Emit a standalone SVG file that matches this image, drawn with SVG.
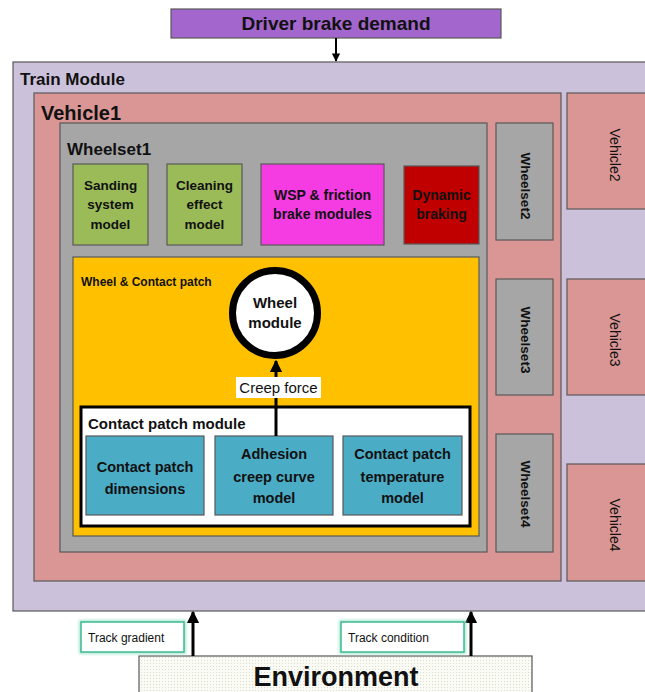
<svg xmlns="http://www.w3.org/2000/svg" width="645" height="692" viewBox="0 0 645 692">
<style>
text{font-family:"Liberation Sans",Arial,sans-serif;fill:#111;}
.b{font-weight:bold;}
.c{text-anchor:middle;}
.box{stroke:#595959;stroke-width:1.2;}
.conn{stroke:#000;fill:none;}
</style>
<defs>
<marker id="ah" viewBox="0 0 10 10" refX="9" refY="5" markerWidth="4.2" markerHeight="4.2" orient="auto"><path d="M0,0 L10,5 L0,10 z" fill="#000"/></marker>
<pattern id="dots" width="3" height="3" patternUnits="userSpaceOnUse"><rect width="3" height="3" fill="#fbfbf6"/><rect width="1" height="1" fill="#dcdcd0"/></pattern>
<filter id="glow" x="-20%" y="-30%" width="140%" height="160%"><feGaussianBlur stdDeviation="1.5"/></filter>
</defs>

<g id="driver">
<rect class="box" x="171" y="9" width="330" height="29" fill="#a366cc"/>
<text class="b c" x="336" y="30" font-size="19">Driver brake demand</text>
</g>

<g id="train">
<rect class="box" x="13" y="62" width="640" height="549" fill="#ccc1da"/>
<text class="b" x="20" y="85" font-size="17">Train Module</text>
</g>

<g id="vehicle1">
<rect class="box" x="34" y="93" width="527" height="488" fill="#d99694"/>
<text class="b" x="41" y="120" font-size="20">Vehicle1</text>
</g>

<g id="vehicle2">
<rect class="box" x="567" y="93" width="90" height="116" fill="#d99694"/>
<text class="c" font-size="14" transform="translate(610,155) rotate(90)">Vehicle2</text>
</g>
<g id="vehicle3">
<rect class="box" x="567" y="279" width="90" height="116" fill="#d99694"/>
<text class="c" font-size="14" transform="translate(610,340) rotate(90)">Vehicle3</text>
</g>
<g id="vehicle4">
<rect class="box" x="567" y="464" width="90" height="117" fill="#d99694"/>
<text class="c" font-size="14" transform="translate(610,525) rotate(90)">Vehicle4</text>
</g>

<g id="wheelset1">
<rect class="box" x="60" y="123" width="427" height="429" fill="#a6a6a6"/>
<text class="b" x="67" y="155" font-size="17">Wheelset1</text>
</g>
<g id="wheelset2">
<rect class="box" x="496" y="123" width="57" height="117" fill="#a6a6a6"/>
<text class="b c" font-size="13.5" transform="translate(521,186) rotate(90)">Wheelset2</text>
</g>
<g id="wheelset3">
<rect class="box" x="496" y="279" width="57" height="116" fill="#a6a6a6"/>
<text class="b c" font-size="13.5" transform="translate(521,340) rotate(90)">Wheelset3</text>
</g>
<g id="wheelset4">
<rect class="box" x="496" y="434" width="57" height="118" fill="#a6a6a6"/>
<text class="b c" font-size="13.5" transform="translate(521,494) rotate(90)">Wheelset4</text>
</g>

<g id="sanding">
<rect class="box" x="73" y="164" width="75" height="81" fill="#9bbb59"/>
<text class="b c" font-size="13.5"><tspan x="110.5" y="190">Sanding</tspan><tspan x="110.5" y="209">system</tspan><tspan x="110.5" y="229">model</tspan></text>
</g>
<g id="cleaning">
<rect class="box" x="167" y="164" width="75" height="81" fill="#9bbb59"/>
<text class="b c" font-size="13.5"><tspan x="204.5" y="190">Cleaning</tspan><tspan x="204.5" y="209">effect</tspan><tspan x="204.5" y="229">model</tspan></text>
</g>
<g id="wsp">
<rect class="box" x="261" y="164" width="123" height="81" fill="#f53ce2"/>
<text class="b c" font-size="14"><tspan x="322.5" y="200">WSP &amp; friction</tspan><tspan x="322.5" y="219">brake modules</tspan></text>
</g>
<g id="dynamic">
<rect class="box" x="404" y="166" width="75" height="78" fill="#c00000"/>
<text class="b c" font-size="14"><tspan x="441.5" y="200">Dynamic</tspan><tspan x="441.5" y="219">braking</tspan></text>
</g>

<g id="wheelcontact">
<rect class="box" x="73" y="257" width="406" height="279" fill="#ffc000"/>
<text class="b" x="81" y="286" font-size="12">Wheel &amp; Contact patch</text>
</g>

<g id="wheel">
<circle cx="275" cy="313" r="42.5" fill="#fff" stroke="#000" stroke-width="7"/>
<text class="b c" font-size="15"><tspan x="275" y="308">Wheel</tspan><tspan x="275" y="328">module</tspan></text>
</g>

<g id="contactpatch">
<rect x="81" y="407" width="389" height="119" fill="#fff" stroke="#000" stroke-width="3"/>
<text class="b" x="88" y="429" font-size="15">Contact patch module</text>
</g>
<g id="cpdim">
<rect class="box" x="86" y="436" width="118" height="79" fill="#4bacc6"/>
<text class="b c" font-size="14.5"><tspan x="145" y="472">Contact patch</tspan><tspan x="145" y="494">dimensions</tspan></text>
</g>
<g id="adhesion">
<rect class="box" x="215" y="436" width="118" height="79" fill="#4bacc6"/>
<text class="b c" font-size="14.5"><tspan x="274" y="459">Adhesion</tspan><tspan x="274" y="482">creep curve</tspan><tspan x="274" y="503">model</tspan></text>
</g>
<g id="cptemp">
<rect class="box" x="343" y="436" width="119" height="79" fill="#4bacc6"/>
<text class="b c" font-size="14.5"><tspan x="402.5" y="459">Contact patch</tspan><tspan x="402.5" y="482">temperature</tspan><tspan x="402.5" y="503">model</tspan></text>
</g>

<g id="environment">
<rect x="139" y="656" width="393" height="40" fill="url(#dots)" stroke="#595959" stroke-width="1.2"/>
<text class="b c" x="336" y="686" font-size="27">Environment</text>
</g>

<g id="connectors">
<line class="conn" x1="336" y1="38" x2="336" y2="61" stroke-width="2" marker-end="url(#ah)"/>
<line class="conn" x1="276" y1="436" x2="276" y2="361" stroke-width="3" marker-end="url(#ah)"/>
<line class="conn" x1="193" y1="656" x2="193" y2="612" stroke-width="3" marker-end="url(#ah)"/>
<line class="conn" x1="471" y1="656" x2="471" y2="612" stroke-width="3" marker-end="url(#ah)"/>
</g>

<g id="labels">
<rect x="236" y="377" width="85" height="21" fill="#fff"/>
<text class="c" x="278.5" y="393" font-size="15">Creep force</text>
<rect x="81" y="622" width="103" height="30" fill="none" stroke="#a8e6d0" stroke-width="4" filter="url(#glow)"/>
<rect x="81" y="622" width="103" height="30" fill="#fff" stroke="#3dbb8c" stroke-width="1.5"/>
<text x="88" y="642" font-size="12">Track gradient</text>
<rect x="341" y="622" width="123" height="30" fill="none" stroke="#a8e6d0" stroke-width="4" filter="url(#glow)"/>
<rect x="341" y="622" width="123" height="30" fill="#fff" stroke="#3dbb8c" stroke-width="1.5"/>
<text x="348" y="642" font-size="12">Track condition</text>
</g>
</svg>
